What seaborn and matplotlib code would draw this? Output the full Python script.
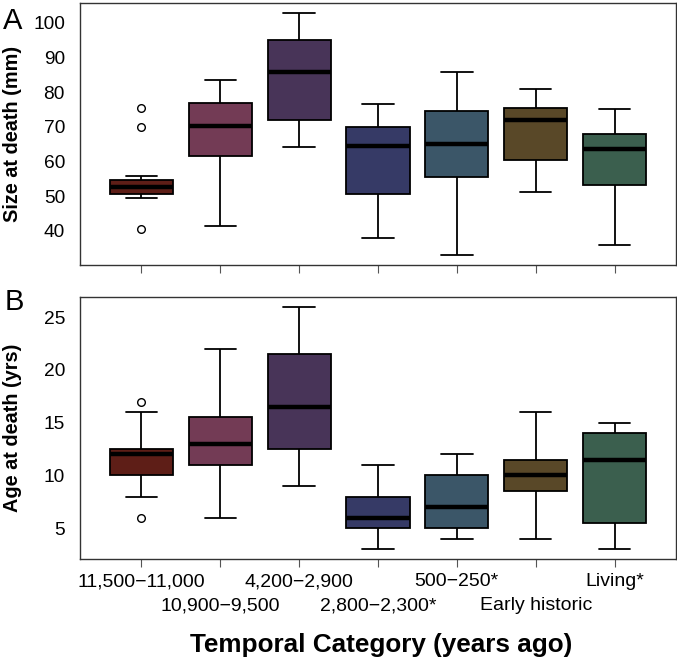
import numpy as np
import pandas as pd
import matplotlib
matplotlib.use("Agg")
import matplotlib.pyplot as plt
import seaborn as sns

# ---------------- data ----------------
categories = ["11,500\u221211,000", "10,900\u22129,500", "4,200\u22122,900",
              "2,800\u22122,300*", "500\u2212250*", "Early historic", "Living*"]
colors = ["#5E1E17", "#733B55", "#483458", "#363A66", "#3B5668", "#594828", "#3B5F4E"]

# Panel A: size at death (mm) - five-number summaries + outliers
size_low = [49.6, 41.5, 64.1, 37.9, 33.0, 51.1, 35.9]
size_q1 = [50.8, 61.5, 72.0, 50.7, 55.5, 60.6, 53.2]
size_med = [52.6, 70.3, 85.9, 64.5, 65.0, 72.0, 63.7]
size_q3 = [54.7, 77.0, 94.9, 69.9, 74.6, 75.5, 67.9]
size_high = [55.8, 83.5, 102.9, 76.5, 85.9, 81.0, 75.2]
size_out = [[40.5, 69.9, 75.4], [], [], [], [], [], []]

# Panel B: age at death (yrs)
age_low = [8, 6, 9, 3, 4, 4, 3]
age_q1 = [10, 11, 12.5, 5, 5, 8.5, 5.5]
age_med = [12, 13, 16.5, 6, 7, 10, 11.5]
age_q3 = [12.5, 15.5, 21.5, 8, 10, 11.5, 14]
age_high = [16, 22, 26, 11, 12, 16, 15]
age_out = [[6, 17], [], [], [], [], [], []]

size_ticks = [40, 50, 60, 70, 80, 90, 100]
age_ticks = [5, 10, 15, 20, 25]


def expand(low, q1, med, q3, high, out, rep=20):
    """Pseudo-observations that reproduce the read five-number summaries."""
    rows = []
    for cat, lo, a, m, b, hi, o in zip(categories, low, q1, med, q3, high, out):
        vals = [lo] + [a] * rep + [m] * rep + [b] * rep + [hi] + list(o)
        rows += [(cat, v) for v in vals]
    return pd.DataFrame(rows, columns=["category", "value"])


df_size = expand(size_low, size_q1, size_med, size_q3, size_high, size_out)
df_age = expand(age_low, age_q1, age_med, age_q3, age_high, age_out)

# ---------------- figure ----------------
sns.set_style("white")
plt.rcParams["font.family"] = ["Liberation Sans", "DejaVu Sans"]
plt.rcParams["text.color"] = "black"
plt.rcParams["axes.labelcolor"] = "black"
plt.rcParams["xtick.color"] = "black"
plt.rcParams["ytick.color"] = "black"

W, H = 677, 663
fig = plt.figure(figsize=(W / 100, H / 100), dpi=100)
ax1 = fig.add_axes([80 / W, 1 - 265 / H, 596 / W, 262 / H])
ax2 = fig.add_axes([80 / W, 1 - 559 / H, 596 / W, 262 / H])

frame_col = "#333333"
tick_len = 5.8
for ax, df, yl, ticks in [(ax1, df_size, (30.2, 105.7), size_ticks),
                          (ax2, df_age, (2.08, 26.92), age_ticks)]:
    sns.boxplot(data=df, x="category", y="value", hue="category",
                order=categories, hue_order=categories, palette=colors,
                saturation=1, width=0.8, linecolor="black", linewidth=1.3,
                legend=False, ax=ax,
                medianprops=dict(color="black", linewidth=3.2),
                flierprops=dict(marker="o", markerfacecolor="none",
                                markeredgecolor="black", markersize=5.5,
                                markeredgewidth=1.0))
    ax.set_xlim(-0.78, 6.78)
    ax.set_ylim(*yl)
    ax.set_yticks(ticks)
    ax.set_xlabel("")
    ax.set_ylabel("")
    for s in ax.spines.values():
        s.set_visible(True)
        s.set_color(frame_col)
        s.set_linewidth(1.0)
    ax.tick_params(axis="y", length=0, pad=10.8, labelsize=13.8, labelcolor="black")
    ax.tick_params(axis="x", which="both", length=tick_len, width=0.8,
                   color="#555555", labelsize=14, bottom=True,
                   labelcolor="black")

# top panel: tick marks only
ax1.set_xticks(range(len(categories)))
ax1.tick_params(axis="x", labelbottom=False)

# bottom panel: labels on two staggered rows (major = row 1, minor = row 2)
row1 = [i for i in range(len(categories)) if i % 2 == 0]
row2 = [i for i in range(len(categories)) if i % 2 == 1]
ax2.set_xticks(row1, labels=[categories[i] for i in row1])
ax2.set_xticks(row2, labels=[categories[i] for i in row2], minor=True)
ax2.tick_params(axis="x", which="major", pad=4.4)
ax2.tick_params(axis="x", which="minor", pad=21.9)

# axis labels and panel letters
fig.text(12.5 / W, 1 - 134 / H, "Size at death (mm)", rotation=90,
         ha="center", va="center", fontsize=14.3, fontweight="bold")
fig.text(12.5 / W, 1 - 428 / H, "Age at death (yrs)", rotation=90,
         ha="center", va="center", fontsize=14.3, fontweight="bold")
fig.text(381 / W, 1 - 645 / H, "Temporal Category (years ago)",
         ha="center", va="center", fontsize=18.8, fontweight="bold")
fig.text(3 / W, 1 - 29 / H, "A", ha="left", va="baseline", fontsize=21)
fig.text(5 / W, 1 - 310 / H, "B", ha="left", va="baseline", fontsize=21)

fig.savefig("out.png", dpi=100)
